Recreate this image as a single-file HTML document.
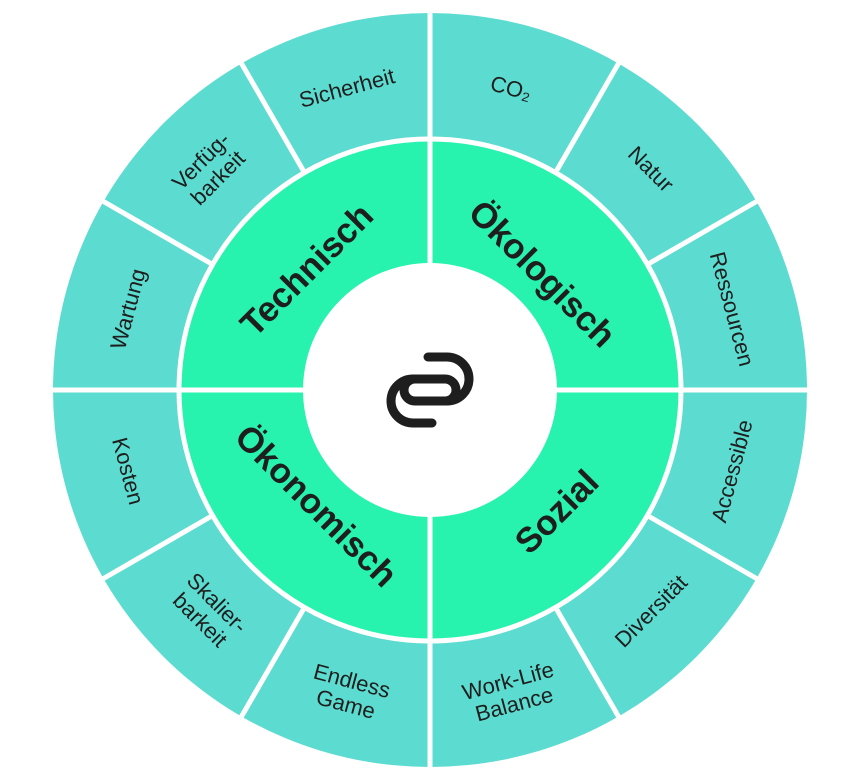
<!DOCTYPE html>
<html><head><meta charset="utf-8"><style>html,body{margin:0;padding:0;background:#fff}svg{display:block}</style></head>
<body>
<svg width="860" height="780" viewBox="0 0 860 780" xmlns="http://www.w3.org/2000/svg">
<circle cx="430" cy="390" r="377" fill="#5cdcd0"/>
<circle cx="430" cy="390" r="251" fill="#27f2ae" stroke="#fff" stroke-width="5"/>
<g stroke="#fff" stroke-width="5">
<line x1="430" y1="13" x2="430" y2="767"/>
<line x1="53" y1="390" x2="807" y2="390"/>
<g transform="translate(430,390)">
<line x1="0" y1="-250" x2="0" y2="-380" transform="rotate(30)"/>
<line x1="0" y1="-250" x2="0" y2="-380" transform="rotate(60)"/>
<line x1="0" y1="-250" x2="0" y2="-380" transform="rotate(120)"/>
<line x1="0" y1="-250" x2="0" y2="-380" transform="rotate(150)"/>
<line x1="0" y1="-250" x2="0" y2="-380" transform="rotate(210)"/>
<line x1="0" y1="-250" x2="0" y2="-380" transform="rotate(240)"/>
<line x1="0" y1="-250" x2="0" y2="-380" transform="rotate(300)"/>
<line x1="0" y1="-250" x2="0" y2="-380" transform="rotate(330)"/>
</g>
</g>
<circle cx="430" cy="390" r="127" fill="#fff"/>
<g fill="none" stroke="#1e1e1e" stroke-width="9" stroke-linecap="round">
<path d="M428,357 H447 A22,22 0 0 1 447,401 H415 A11,11 0 0 1 415,379 H437"/>
<path d="M432,423 H413 A22,22 0 0 1 413,379 H445 A11,11 0 0 1 445,401 H423"/>
</g>
<g font-family="Liberation Sans, sans-serif" font-size="22" fill="#1e1e1e" text-anchor="middle" dominant-baseline="central">
<text transform="translate(347,88) rotate(-15)">Sicherheit</text>
<text transform="translate(209,169) rotate(-45)"><tspan x="0" dy="-12">Verfüg-</tspan><tspan x="0" dy="24">barkeit</tspan></text>
<text transform="translate(128,309) rotate(-75)">Wartung</text>
<text transform="translate(511,88) rotate(15)">CO₂</text>
<text transform="translate(651,169) rotate(45)">Natur</text>
<text transform="translate(732,309) rotate(75)">Ressourcen</text>
<text transform="translate(732,471) rotate(-75)">Accessible</text>
<text transform="translate(651,611) rotate(-45)">Diversität</text>
<text transform="translate(511,692) rotate(-15)"><tspan x="0" dy="-12">Work-Life</tspan><tspan x="0" dy="24">Balance</tspan></text>
<text transform="translate(349,692) rotate(15)"><tspan x="0" dy="-12">Endless</tspan><tspan x="0" dy="24">Game</tspan></text>
<text transform="translate(209,611) rotate(45)"><tspan x="0" dy="-12">Skalier-</tspan><tspan x="0" dy="24">barkeit</tspan></text>
<text transform="translate(128,471) rotate(75)">Kosten</text>
</g>
<g font-family="Liberation Sans, sans-serif" font-size="35" font-weight="bold" fill="#1e1e1e" text-anchor="middle" dominant-baseline="central">
<text transform="translate(307,270) rotate(-45)">Technisch</text>
<text transform="translate(542,274) rotate(45)">Ökologisch</text>
<text transform="translate(557,512) rotate(-45)">Sozial</text>
<text transform="translate(316,506) rotate(45)">Ökonomisch</text>
</g>
</svg>
</body></html>
